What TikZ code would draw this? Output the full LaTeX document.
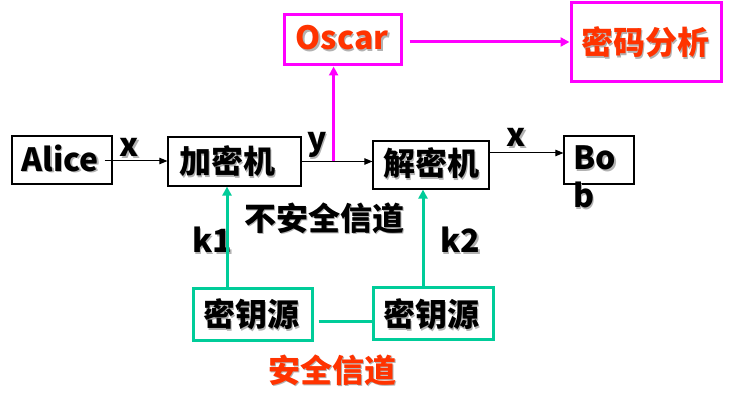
\documentclass[tikz,border=0pt]{standalone}
\usepackage{fontspec}
\setmainfont{Noto Sans CJK SC}
\usetikzlibrary{arrows.meta}
\definecolor{mag}{HTML}{FF00FF}
\definecolor{ored}{HTML}{FF3300}
\definecolor{grn}{HTML}{00CC99}
\newcommand\shd[1]{\makebox[0pt][l]{\hspace{1.6pt}\raisebox{-1.6pt}{\color{black!30}#1}}#1}
\begin{document}
\begin{tikzpicture}[x=1pt,y=-1pt,
  bbox/.style={draw=black,line width=1.2pt,inner sep=0pt},
  mbox/.style={draw=mag,line width=3pt,inner sep=0pt},
  gbox/.style={draw=grn,line width=3pt,inner sep=0pt},
  txt/.style={font=\fontsize{32}{38}\selectfont\bfseries,inner sep=0pt},
  barrow/.style={line width=1pt,-{Triangle[length=8pt,width=6.5pt]}},
  marrow/.style={draw=mag,line width=3pt,-{Triangle[length=9pt,width=9pt]}},
  garrow/.style={draw=grn,line width=3pt,-{Triangle[length=9pt,width=9pt]}}]
\useasboundingbox[fill=white] (0,0) rectangle (732,411);
% boxes
\node[bbox,minimum width=100pt,minimum height=48pt] (alice) at (62,160) {};
\node[bbox,minimum width=133pt,minimum height=49pt] (enc) at (234.5,161.5) {};
\node[bbox,minimum width=116pt,minimum height=48pt] (dec) at (431,165) {};
\node[bbox,minimum width=70pt,minimum height=48pt] (bob) at (599,160) {};
\node[mbox,minimum width=117pt,minimum height=50pt] (oscar) at (342.5,40) {};
\node[mbox,minimum width=150pt,minimum height=79pt] (crypt) at (646,42.5) {};
\node[gbox,minimum width=119pt,minimum height=52pt] (key1) at (252.5,315) {};
\node[gbox,minimum width=120pt,minimum height=52pt] (key2) at (433,314) {};
% texts
\node[txt] (talice) at (60,159) {\shd{Alice}};
\node[txt] (tenc) at (227,162) {\shd{加密机}};
\node[txt] (tdec) at (431,164) {\shd{解密机}};
\node[txt,anchor=base west] (tbob) at (573,170) {\shd{Bo}};
\node[txt,anchor=base west] (tbob2) at (573,208) {\shd{b}};
\node[txt,text=ored] (toscar) at (342,38.5) {\shd{Oscar}};
\node[txt,text=ored] (tcrypt) at (645,43) {\shd{密码分析}};
\node[txt] (tkey1) at (251,315) {\shd{密钥源}};
\node[txt] (tkey2) at (431,315) {\shd{密钥源}};
\node[txt] (tunsafe) at (324,219) {\shd{不安全信道}};
\node[txt,text=ored] (tsafe) at (332,371) {\shd{安全信道}};
\node[txt,anchor=base] (lx1) at (129,157) {\shd{x}};
\node[txt,anchor=base] (ly) at (317,151) {\shd{y}};
\node[txt,anchor=base] (lx2) at (516.5,147) {\shd{x}};
\node[txt,anchor=base] (lk1) at (212,253) {\shd{k1}};
\node[txt,anchor=base] (lk2) at (460,253) {\shd{k2}};
% connectors
\draw[barrow] ([xshift=-8pt,yshift=-1pt]alice.east) -- ([yshift=-1pt]alice.east -| enc.west);
\draw[barrow] (enc.east) -- (enc.east -| dec.west);
\coordinate (tap) at ([xshift=32pt]enc.east);
\draw[marrow] (tap) -- (tap |- oscar.south);
\draw[marrow] ([xshift=7pt,yshift=-2pt]oscar.east) -- ([yshift=-2pt]oscar.east -| crypt.west);
\draw[barrow] ([yshift=12pt]dec.east) -- ([yshift=12pt]dec.east -| bob.west);
\draw[garrow] ([xshift=-25.5pt]key1.north) -- ([xshift=-25.5pt]key1.north |- enc.south);
\draw[garrow] ([xshift=-10pt]key2.north) -- ([xshift=-10pt]key2.north |- dec.south);
\draw[draw=grn,line width=3pt] ([xshift=5pt,yshift=-7pt]key1.east) -- ([yshift=-7pt]key1.east -| key2.west);
\end{tikzpicture}
\end{document}
